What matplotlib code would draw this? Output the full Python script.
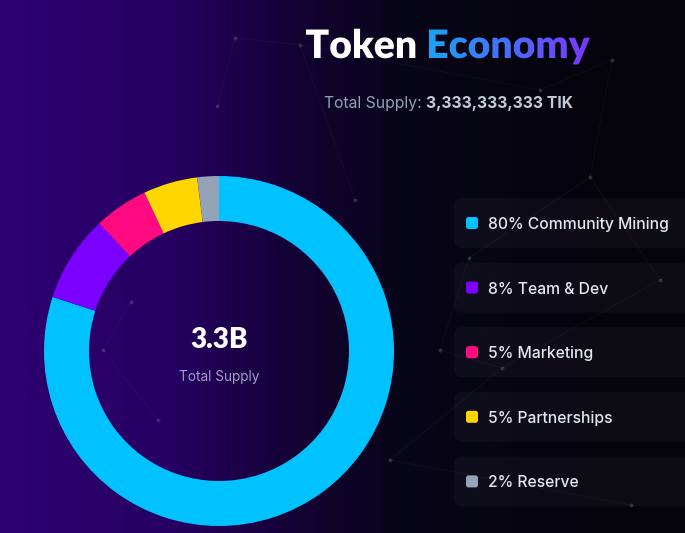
import numpy as np
import matplotlib.pyplot as plt
from matplotlib.colors import LinearSegmentedColormap, to_rgb
from matplotlib.patches import FancyBboxPatch, PathPatch
from matplotlib.textpath import TextPath
from matplotlib.font_manager import FontProperties
import matplotlib.transforms as mtransforms

W, H = 685, 533

# data
labels = ['Community Mining', 'Team & Dev', 'Marketing', 'Partnerships', 'Reserve']
shares = [80, 8, 5, 5, 2]
colors = ['#00C2FF', '#7B00FF', '#FF0A80', '#FFD600', '#94A3B8']
title_plain = 'Token'
title_grad = 'Economy'
supply_label = 'Total Supply:'
supply_value = '3,333,333,333 TIK'
center_value = '3.3B'
center_label = 'Total Supply'

# faint network decoration in the background
net_nodes = [(235, 38), (217, 106), (300, 45), (590, 177), (612, 60), (469, 258),
             (440, 350), (502, 368), (131, 302), (103, 350), (158, 420),
             (390, 460), (631, 505), (355, 200), (540, 90), (660, 280)]
net_edges = [(0, 1), (0, 2), (2, 13), (3, 4), (3, 5), (5, 6), (6, 7), (7, 15),
             (8, 9), (9, 10), (11, 12), (4, 14), (14, 2), (3, 15), (7, 11)]

fig = plt.figure(figsize=(W / 100, H / 100), dpi=100)
bg = fig.add_axes([0, 0, 1, 1])
bg.set_xlim(0, W)
bg.set_ylim(H, 0)
bg.axis('off')

# background gradient purple -> near black
bg_cmap = LinearSegmentedColormap.from_list('bg', [
    (0.0, '#2d0070'), (0.25, '#260062'), (0.42, '#140236'),
    (0.58, '#08051a'), (0.75, '#06050f'), (1.0, '#05040c')])
bg.imshow(np.linspace(0, 1, 500)[None, :], cmap=bg_cmap, extent=[0, W, H, 0],
          aspect='auto', zorder=0, interpolation='bilinear')

for a, b in net_edges:
    x1, y1 = net_nodes[a]
    x2, y2 = net_nodes[b]
    bg.plot([x1, x2], [y1, y2], color='white', alpha=0.035, lw=0.7, zorder=1)
for x, y in net_nodes:
    bg.plot(x, y, 'o', color='#8a86a0', alpha=0.3, ms=2.8, mec='none', zorder=1)

# title with gradient on second word
fp_title = FontProperties(family='Lato', weight='heavy')
tp_all = TextPath((0, 0), title_plain + ' ' + title_grad, size=36, prop=fp_title)
tp_tok = TextPath((0, 0), title_plain, size=36, prop=fp_title)
ext = tp_all.get_extents()
scale = 284 / ext.width
x_left, baseline = 306, 58
tr = (mtransforms.Affine2D().translate(-ext.x0, 0).scale(scale, -scale)
      .translate(x_left, baseline) + bg.transData)
tpatch = PathPatch(tp_all, transform=tr, facecolor='none', edgecolor='none')
bg.add_patch(tpatch)
split = x_left + (tp_tok.get_extents().x1 - ext.x0) * scale + 6
ncol = 400
xcols = np.linspace(x_left, x_left + ext.width * scale, ncol)
c0, c1 = np.array(to_rgb('#14a8f5')), np.array(to_rgb('#7b35ff'))
img = np.ones((1, ncol, 3))
m = xcols > split
t = (xcols[m] - split) / (xcols[-1] - split)
img[0, m, :] = c0 + (c1 - c0) * t[:, None]
top = baseline - ext.y1 * scale - 2
bot = baseline - ext.y0 * scale + 2
im = bg.imshow(img, extent=[xcols[0], xcols[-1], bot, top], aspect='auto',
               zorder=3, interpolation='bilinear')
im.set_clip_path(tpatch)

# subtitle
bg.text(422, 108, supply_label, ha='right', va='baseline', fontsize=11.3,
        family='Inter', color='#94a3b8', zorder=3)
bg.text(426, 108, supply_value, ha='left', va='baseline', fontsize=11.3,
        family='Inter', weight='bold', color='#c3cbd8', zorder=3)

# legend cards
card_top = 198
card_h = 50
card_step = 64.6
for i, (lab, sh, col) in enumerate(zip(labels, shares, colors)):
    y0 = card_top + i * card_step
    cy = y0 + card_h / 2
    bg.add_patch(FancyBboxPatch((454, y0), 260, card_h,
                                boxstyle='round,pad=0,rounding_size=8',
                                facecolor='white', alpha=0.035, edgecolor='none', zorder=2))
    bg.add_patch(FancyBboxPatch((466, cy - 6), 12, 12,
                                boxstyle='round,pad=0,rounding_size=2.5',
                                facecolor=col, edgecolor='none', zorder=3))
    bg.text(488, cy, f'{sh}% {lab}', ha='left', va='center_baseline', fontsize=11.3,
            family='Inter', weight='medium', color='#e2e8f0', zorder=3)

# donut
R, cx, cy = 175, 219, 351
pax = fig.add_axes([(cx - R) / W, (H - cy - R) / H, 2 * R / W, 2 * R / H])
pax.pie(shares, colors=colors, startangle=90, counterclock=False, radius=1,
        wedgeprops=dict(width=45 / R, edgecolor='none', linewidth=0))
pax.set_xlim(-1, 1)
pax.set_ylim(-1, 1)
pax.set_aspect('equal')
pax.axis('off')

bg.text(cx, 348, center_value, ha='center', va='baseline', fontsize=20,
        family='Lato', weight='heavy', color='white', zorder=3)
bg.text(cx, 381, center_label, ha='center', va='baseline', fontsize=9.8,
        family='Inter', color='#a39bcc', zorder=3)

fig.savefig('out.png', dpi=100)
